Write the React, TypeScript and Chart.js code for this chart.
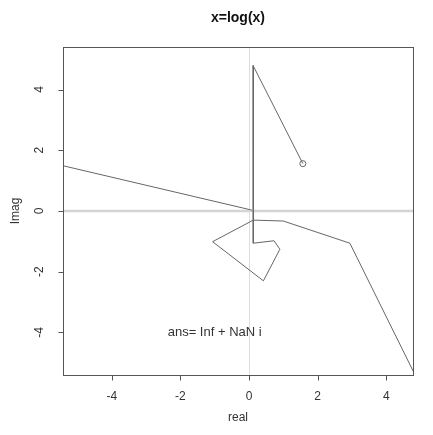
import React, { useEffect, useRef } from "react";
import Chart from "chart.js/auto";

// Iterates traced in the complex plane (real part, imaginary part)
const pathRe = [1.57, 0.12, 0.125, 0.73, 0.9, 0.42, -1.06, 0.125, 1.0, 2.94, 5.3];
const pathIm = [1.56, 4.79, -1.06, -0.98, -1.26, -2.3, -1.01, -0.3, -0.33, -1.06, -6.45];

// Segment coming back in from the far left towards the origin
const tailRe = [-6.0, 0.08];
const tailIm = [1.645, 0.03];

// Starting point, drawn as an open circle
const startRe = [1.57];
const startIm = [1.56];

const xTicks = [-4, -2, 0, 2, 4];
const yTicks = [-4, -2, 0, 2, 4];
const xRange = [-5.42, 4.78];
const yRange = [-5.4, 5.4];

const titleText = "x=log(x)";
const xLabel = "real";
const yLabel = "Imag";
const noteText = "ans= Inf + NaN i";
const noteX = -1;
const noteY = -4;

const FONT = "'Liberation Sans', Arial, Helvetica, sans-serif";
const INK = "#666";

const toPoints = (xs: number[], ys: number[]) => xs.map((x, i) => ({ x, y: ys[i] }));

const basePlot = {
  id: "basePlot",
  beforeDatasetsDraw(chart: any) {
    const { ctx, chartArea: a, scales } = chart;
    const x0 = scales.x.getPixelForValue(0);
    const y0 = scales.y.getPixelForValue(0);
    ctx.save();
    ctx.beginPath();
    ctx.rect(a.left, a.top, a.right - a.left, a.bottom - a.top);
    ctx.clip();
    ctx.strokeStyle = "#d4d4d4";
    ctx.lineWidth = 2.5;
    ctx.beginPath();
    ctx.moveTo(a.left, y0);
    ctx.lineTo(a.right, y0);
    ctx.stroke();
    ctx.strokeStyle = "#dddddd";
    ctx.lineWidth = 1;
    ctx.beginPath();
    ctx.moveTo(Math.round(x0) + 0.5, a.top);
    ctx.lineTo(Math.round(x0) + 0.5, a.bottom);
    ctx.stroke();
    ctx.restore();
  },
  afterDraw(chart: any) {
    const { ctx, chartArea: a, scales } = chart;
    const sx = scales.x;
    const sy = scales.y;
    ctx.save();
    ctx.strokeStyle = "#555";
    ctx.lineWidth = 1;
    // frame
    ctx.strokeRect(Math.round(a.left) + 0.5, Math.round(a.top) + 0.5,
      Math.round(a.right - a.left), Math.round(a.bottom - a.top));

    const bottom = Math.round(a.bottom) + 0.5;
    const left = Math.round(a.left) + 0.5;
    const tick = 5;

    ctx.fillStyle = "#333";
    ctx.font = `12px ${FONT}`;

    // x axis
    ctx.beginPath();
    ctx.moveTo(sx.getPixelForValue(xTicks[0]), bottom);
    ctx.lineTo(sx.getPixelForValue(xTicks[xTicks.length - 1]), bottom);
    xTicks.forEach((v) => {
      const px = Math.round(sx.getPixelForValue(v)) + 0.5;
      ctx.moveTo(px, bottom);
      ctx.lineTo(px, bottom + tick);
    });
    ctx.stroke();
    ctx.textAlign = "center";
    ctx.textBaseline = "middle";
    xTicks.forEach((v) => {
      ctx.fillText(String(v), sx.getPixelForValue(v), a.bottom + 22);
    });

    // y axis
    ctx.beginPath();
    ctx.moveTo(left, sy.getPixelForValue(yTicks[0]));
    ctx.lineTo(left, sy.getPixelForValue(yTicks[yTicks.length - 1]));
    yTicks.forEach((v) => {
      const py = Math.round(sy.getPixelForValue(v)) + 0.5;
      ctx.moveTo(left, py);
      ctx.lineTo(left - tick, py);
    });
    ctx.stroke();
    yTicks.forEach((v) => {
      ctx.save();
      ctx.translate(a.left - 23, sy.getPixelForValue(v));
      ctx.rotate(-Math.PI / 2);
      ctx.fillText(String(v), 0, 0);
      ctx.restore();
    });

    // axis titles
    ctx.fillText(xLabel, (a.left + a.right) / 2, a.bottom + 43);
    ctx.save();
    ctx.translate(a.left - 47, (a.top + a.bottom) / 2);
    ctx.rotate(-Math.PI / 2);
    ctx.fillText(yLabel, 0, 0);
    ctx.restore();

    // note
    ctx.font = `13px ${FONT}`;
    ctx.fillText(noteText, sx.getPixelForValue(noteX), sy.getPixelForValue(noteY));

    // main title
    ctx.fillStyle = "#111";
    ctx.font = `bold 14px ${FONT}`;
    ctx.fillText(titleText, (a.left + a.right) / 2, 18);
    ctx.restore();
  },
};

export default function App() {
  const canvasRef = useRef<HTMLCanvasElement | null>(null);

  useEffect(() => {
    if (!canvasRef.current) return;
    const lineStyle = {
      showLine: true,
      borderColor: INK,
      borderWidth: 1,
      pointRadius: 0,
      pointHoverRadius: 0,
      fill: false,
      tension: 0,
    };
    const chart = new Chart(canvasRef.current, {
      type: "scatter",
      data: {
        datasets: [
          { data: toPoints(pathRe, pathIm), ...lineStyle },
          { data: toPoints(tailRe, tailIm), ...lineStyle },
          {
            data: toPoints(startRe, startIm),
            showLine: false,
            pointRadius: 3,
            pointStyle: "circle",
            borderColor: INK,
            borderWidth: 1,
            backgroundColor: "rgba(0,0,0,0)",
          },
        ],
      },
      options: {
        responsive: false,
        animation: false,
        devicePixelRatio: 1,
        layout: { padding: { left: 63, right: 20, top: 47, bottom: 60 } },
        scales: {
          x: { type: "linear", min: xRange[0], max: xRange[1], display: false },
          y: { type: "linear", min: yRange[0], max: yRange[1], display: false },
        },
        plugins: {
          legend: { display: false },
          tooltip: { enabled: false },
          title: { display: false },
        },
        events: [],
      },
      plugins: [basePlot],
    });
    return () => chart.destroy();
  }, []);

  return (
    <div style={{ position: "absolute", left: 0, top: 0, width: 433, height: 435, background: "#fff" }}>
      <canvas ref={canvasRef} width={433} height={435} />
    </div>
  );
}
